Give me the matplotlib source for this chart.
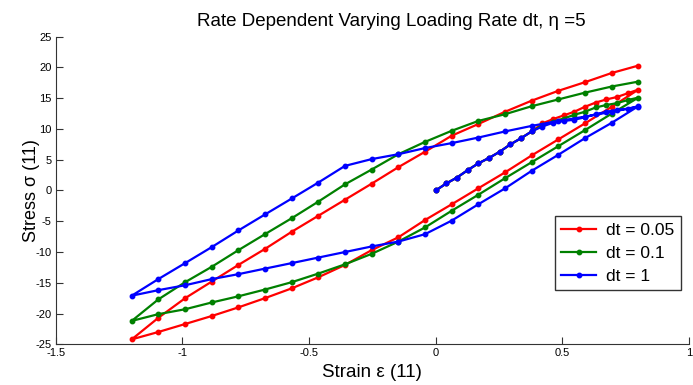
import matplotlib
matplotlib.use("Agg")
import matplotlib.pyplot as plt

plt.rcParams['font.family'] = ['Liberation Sans', 'DejaVu Sans']
plt.rcParams['axes.unicode_minus'] = False

# strain path: initial loading 0 -> 0.8, unloading 0.8 -> -1.2, reloading -1.2 -> 0.8
strain_initial = [0, 0.042, 0.084, 0.126, 0.168, 0.211, 0.253, 0.295, 0.337, 0.379,
                  0.421, 0.463, 0.505, 0.547, 0.589, 0.632, 0.674, 0.716, 0.758, 0.8]
strain_unload = [0.695, 0.589, 0.484, 0.379, 0.274, 0.168, 0.063, -0.042, -0.147, -0.253,
                 -0.358, -0.463, -0.568, -0.674, -0.779, -0.884, -0.989, -1.095, -1.2]
strain_reload = [-1.095, -0.989, -0.884, -0.779, -0.674, -0.568, -0.463, -0.358, -0.253, -0.147,
                 -0.042, 0.063, 0.168, 0.274, 0.379, 0.484, 0.589, 0.695, 0.8]

stress_dt005 = [0, 1.15, 2.1, 3.3, 4.4, 5.3, 6.3, 7.5, 8.5, 9.6, 10.9, 11.6, 12.2, 12.8, 13.6, 14.3, 14.8, 15.2, 15.8, 16.4,
                13.6, 10.9, 8.3, 5.7, 2.95, 0.35, -2.25, -4.8, -7.6, -9.7, -12.1, -14.1, -15.9, -17.5, -19.0, -20.4, -21.7, -23.0, -24.2,
                -20.7, -17.5, -14.8, -12.1, -9.5, -6.7, -4.1, -1.5, 1.1, 3.8, 6.3, 8.9, 10.8, 12.8, 14.6, 16.2, 17.6, 19.1, 20.3]
stress_dt01 = [0, 1.15, 2.1, 3.3, 4.4, 5.3, 6.3, 7.5, 8.5, 9.6, 10.6, 11.2, 11.7, 12.3, 12.8, 13.5, 13.9, 14.2, 14.7, 15.1,
               12.5, 9.8, 7.2, 4.6, 2.0, -0.7, -3.3, -6.0, -8.3, -10.3, -12.0, -13.5, -14.9, -16.1, -17.2, -18.2, -19.3, -20.1, -21.2,
               -17.7, -14.9, -12.4, -9.7, -7.1, -4.5, -1.8, 1.0, 3.4, 5.9, 7.9, 9.7, 11.3, 12.4, 13.7, 14.8, 15.9, 16.9, 17.7]
stress_dt1 = [0, 1.15, 2.1, 3.3, 4.4, 5.3, 6.3, 7.5, 8.5, 9.6, 10.4, 11.0, 11.3, 11.5, 11.9, 12.4, 12.8, 13.1, 13.3, 13.7,
              11.0, 8.5, 5.8, 3.2, 0.35, -2.25, -4.9, -7.1, -8.3, -9.1, -10.0, -10.9, -11.8, -12.7, -13.6, -14.4, -15.4, -16.2, -17.1,
              -14.4, -11.8, -9.2, -6.5, -3.9, -1.3, 1.3, 4.0, 5.1, 5.9, 6.9, 7.7, 8.6, 9.6, 10.5, 11.3, 12.0, 12.8, 13.6]

labels = ['dt = 0.05', 'dt = 0.1', 'dt = 1']
colors = ['#ff0000', '#008000', '#0000ff']

xticks = [-1.5, -1, -0.5, 0, 0.5, 1]
xticklabels = ['-1.5', '-1', '-0.5', '0', '0.5', '1']
yticks = [-25, -20, -15, -10, -5, 0, 5, 10, 15, 20, 25]

strain = strain_initial + strain_unload + strain_reload

fig = plt.figure(figsize=(6.93, 3.85), dpi=100)
ax = fig.add_axes([0.0804, 0.1057, 0.9138, 0.799])

for s, lab, c in zip([stress_dt005, stress_dt01, stress_dt1], labels, colors):
    ax.plot(strain, s, '-', color=c, lw=1.6, marker='o', ms=3.2, mec=c, mfc=c, label=lab)

ax.set_xlim(-1.5, 1)
ax.set_ylim(-25, 25)
ax.set_xticks(xticks)
ax.set_xticklabels(xticklabels)
ax.set_yticks(yticks)
ax.set_yticklabels([str(v) for v in yticks])
for sp in ['top', 'right']:
    ax.spines[sp].set_visible(False)
for sp in ['left', 'bottom']:
    ax.spines[sp].set_color('#333333')
    ax.spines[sp].set_linewidth(0.8)
ax.tick_params(direction='in', length=5, width=0.8, color='#333333', labelsize=8, pad=3)

ax.set_xlabel('Strain ε (11)', fontsize=13.5, labelpad=4)
ax.set_ylabel('Stress σ (11)', fontsize=13, labelpad=-3)
fig.text(391 / 693, 1 - 21 / 385, 'Rate Dependent Varying Loading Rate dt, η =5',
         ha='center', va='center', fontsize=13.5)

leg = ax.legend(loc='lower right', bbox_to_anchor=((681 - 55.7) / 633.3, (344.3 - 290) / 307.6),
                fontsize=12.5, frameon=True, fancybox=False, edgecolor='black',
                handlelength=2.0, handletextpad=0.6, borderpad=0.37, labelspacing=0.45,
                borderaxespad=0, markerscale=1.0)
leg.get_frame().set_linewidth(1.0)

fig.savefig('out.png', dpi=100)
